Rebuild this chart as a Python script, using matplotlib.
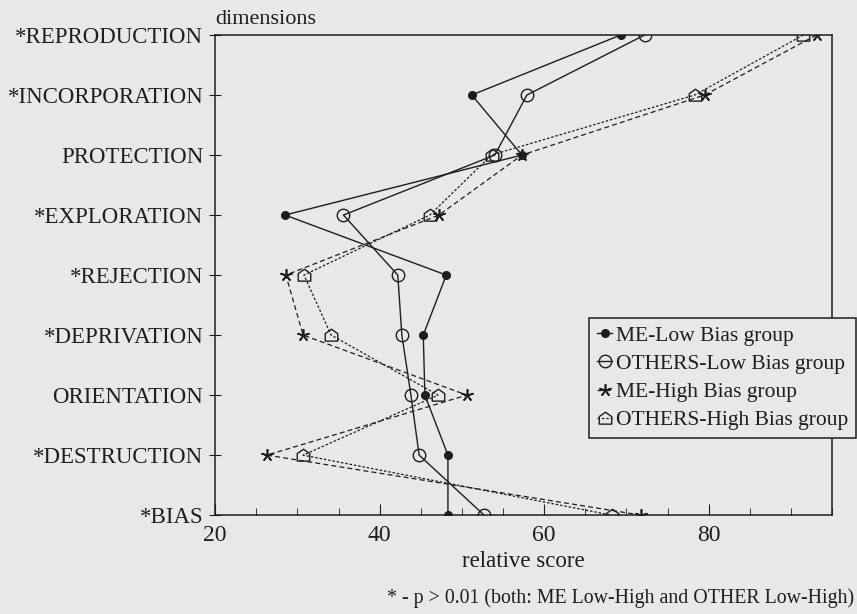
import numpy as np
import matplotlib
matplotlib.use("Agg")
from matplotlib import pyplot as plt
from matplotlib.path import Path
from matplotlib.ticker import MultipleLocator

dimensions = ["*REPRODUCTION", "*INCORPORATION", "PROTECTION", "*EXPLORATION",
              "*REJECTION", "*DEPRIVATION", "ORIENTATION", "*DESTRUCTION", "*BIAS"]

me_low = [69.3, 51.2, 57.3, 28.5, 48.1, 45.3, 45.5, 48.3, 48.3]
others_low = [72.2, 57.9, 54.0, 35.6, 42.2, 42.7, 43.8, 44.8, 52.7]
me_high = [93.1, 79.5, 57.3, 47.2, 28.6, 30.7, 50.6, 26.3, 71.8]
others_high = [91.5, 78.3, 53.6, 46.1, 30.8, 34.1, 47.1, 30.7, 68.2]

# little "house" marker like in the scan
house = Path([(-1, -0.9), (1, -0.9), (1, 0.3), (0, 1), (-1, 0.3), (-1, -0.9)],
             [Path.MOVETO, Path.LINETO, Path.LINETO, Path.LINETO, Path.LINETO, Path.CLOSEPOLY])

plt.rcParams['font.family'] = ['Liberation Serif', 'DejaVu Serif']
ink = '#1e1e1e'
paper = '#e8e8e6'

fig = plt.figure(figsize=(8.57, 6.14), dpi=100, facecolor=paper)
ax = fig.add_axes([0.251, 0.161, 0.720, 0.782])
ax.set_facecolor(paper)

y = np.arange(len(dimensions))

ax.plot(me_low, y, '-', color=ink, lw=1.0, marker='o', ms=5.5, mfc=ink, mec=ink,
        label='ME-Low Bias group')
ax.plot(others_low, y, '-', color=ink, lw=1.0, marker='o', ms=9, mfc='none', mec=ink,
        mew=1.0, label='OTHERS-Low Bias group')
ax.plot(me_high, y, color=ink, lw=0.9, dashes=(4, 2.5), marker=(5, 2, 0), ms=9,
        mec=ink, mew=1.2, label='ME-High Bias group')
ax.plot(others_high, y, color=ink, lw=0.9, dashes=(2, 1.5), marker=house, ms=9,
        mfc='none', mec=ink, mew=1.0, label='OTHERS-High Bias group')

ax.set_xlim(20, 95)
ax.set_ylim(len(dimensions) - 1, 0)
ax.set_yticks(y)
ax.set_yticklabels(dimensions, fontsize=16.5)
ax.xaxis.set_major_locator(MultipleLocator(20))
ax.xaxis.set_minor_locator(MultipleLocator(5))
ax.tick_params(axis='x', which='major', direction='in', length=8, labelsize=17,
               color=ink, labelcolor=ink, pad=7)
ax.tick_params(axis='x', which='minor', direction='in', length=5, color=ink)
ax.tick_params(axis='y', direction='inout', length=9, color=ink, labelcolor=ink, pad=4)
for s in ax.spines.values():
    s.set_color(ink)
    s.set_linewidth(1.1)

ax.set_xlabel('relative score', fontsize=16.5, color=ink, labelpad=4)
fig.text(0.251, 0.968, 'dimensions', fontsize=16, color=ink, ha='left', va='center')
fig.text(0.997, 0.026, '* - p > 0.01 (both: ME Low-High and OTHER Low-High)',
         fontsize=14.3, color=ink, ha='right', va='center')

leg = ax.legend(loc='upper right', bbox_to_anchor=(0.999, 0.482), bbox_transform=fig.transFigure,
                fontsize=15.5, frameon=True, fancybox=False, edgecolor=ink, facecolor=paper,
                framealpha=1, handlelength=0.7, handletextpad=0.2, borderpad=0.35,
                labelspacing=0.38, borderaxespad=0)
leg.get_frame().set_linewidth(1.1)
for t in leg.get_texts():
    t.set_color(ink)

plt.savefig('out.png', dpi=100, facecolor=paper)
